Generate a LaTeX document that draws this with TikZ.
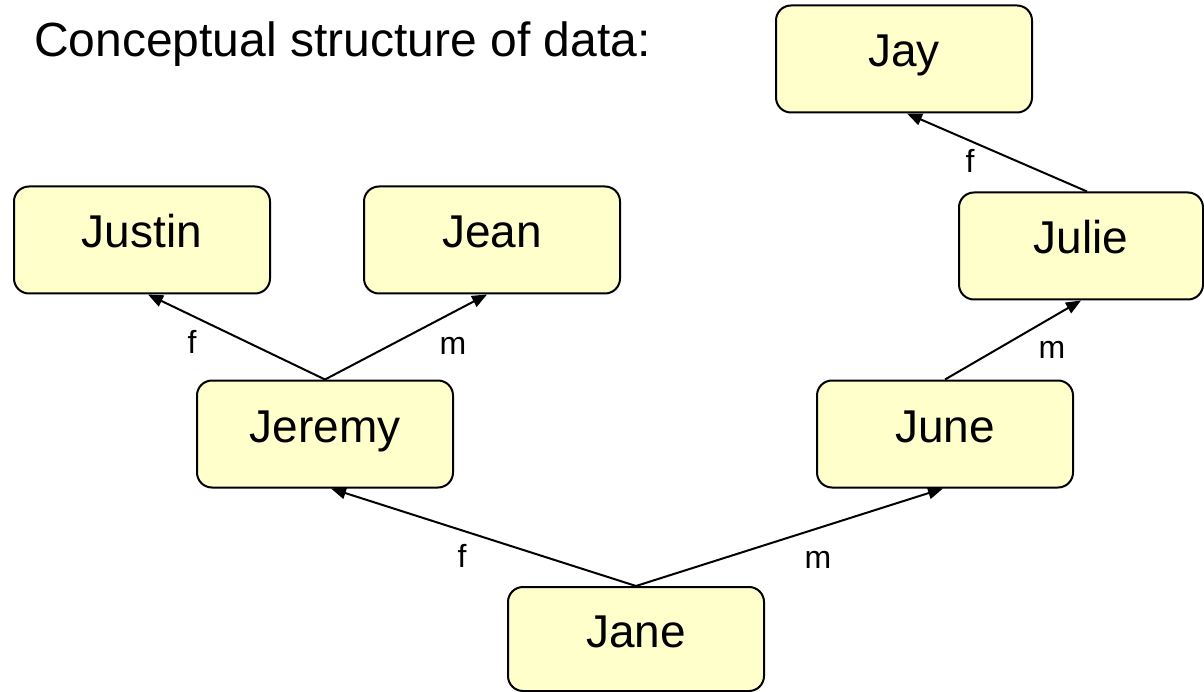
\documentclass[tikz,border=0pt]{standalone}
\usepackage{fontspec}
\setmainfont{Liberation Sans}
\usetikzlibrary{arrows.meta}
\definecolor{boxfill}{HTML}{FFFFCC}
\begin{document}
\begin{tikzpicture}[x=1pt,y=-1pt,
  person/.style={draw=black, line width=2pt, fill=boxfill, rounded corners=15pt,
    minimum width=256pt, minimum height=107pt, inner sep=0pt,
    text height=30pt, text depth=14pt, font=\fontsize{46}{50}\selectfont},
  link/.style={line width=2pt, -{Triangle[length=15pt,width=12pt]}},
  lbl/.style={anchor=base, inner sep=0pt, font=\fontsize{32}{35}\selectfont}]
\useasboundingbox (0,0) rectangle (1204,692);
\node[anchor=base west, inner sep=0pt, font=\fontsize{48}{53}\selectfont] (title) at (34,57) {Conceptual structure of data:};
\node[person] (jay) at (904,59) {Jay};
\node[person] (justin) at (142,240) {Justin};
\node[person] (jean) at (492,240) {Jean};
\node[person, minimum width=244pt] (julie) at (1081,246) {Julie};
\node[person] (jeremy) at (325,434) {Jeremy};
\node[person] (june) at (945,434) {June};
\node[person, minimum height=104pt] (jane) at (636,639) {Jane};
\draw[link] (jeremy.north) -- ([xshift=6pt]justin.south);
\draw[link] (jeremy.north) -- ([xshift=-5pt]jean.south);
\draw[link] (jane.north) -- ([xshift=6pt]jeremy.south);
\draw[link] (jane.north) -- ([xshift=-2pt]june.south);
\draw[link] (june.north) -- (julie.south);
\draw[link] ([xshift=6pt]julie.north) -- ([xshift=3pt]jay.south);
\node[lbl] (l1) at (192,353) {f};
\node[lbl] (l2) at (453,355) {m};
\node[lbl] (l3) at (462,567) {f};
\node[lbl] (l4) at (818,568) {m};
\node[lbl] (l5) at (1052,358) {m};
\node[lbl] (l6) at (970,173) {f};
\end{tikzpicture}
\end{document}
